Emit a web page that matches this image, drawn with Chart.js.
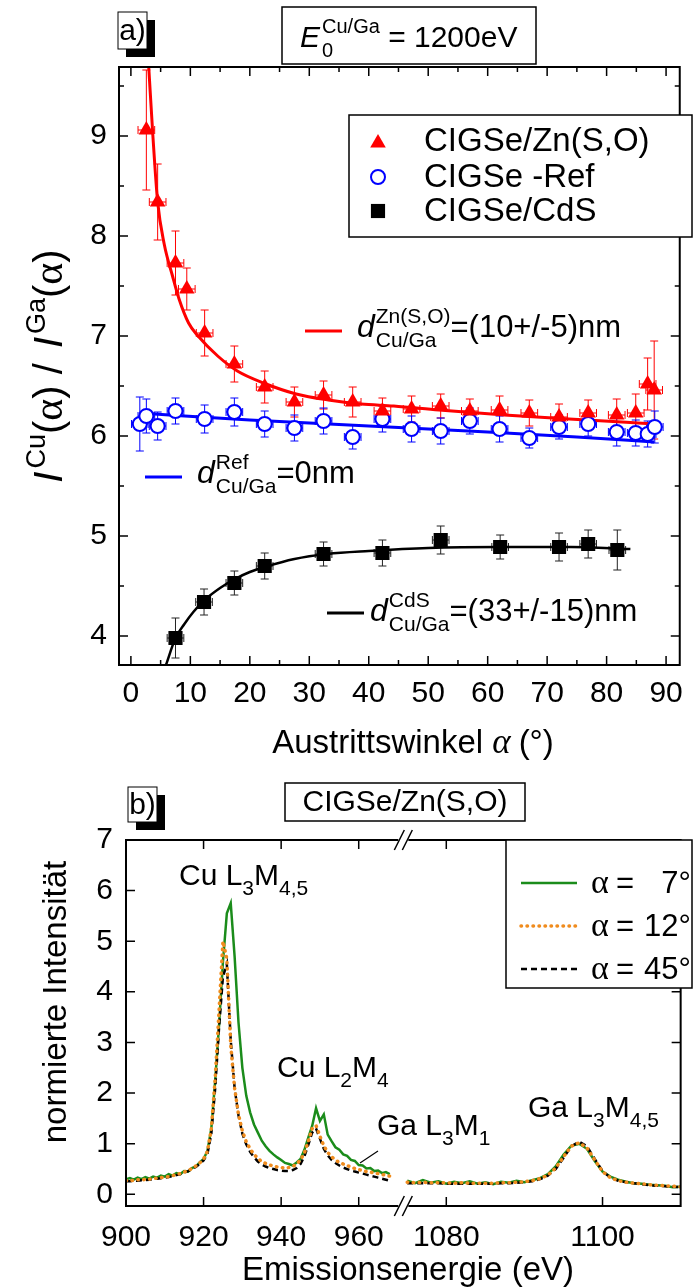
<!DOCTYPE html>
<html>
<head>
<meta charset="utf-8">
<script src="https://cdn.jsdelivr.net/npm/chart.js@4.4.1/dist/chart.umd.min.js"></script>
<style>
	html, body { margin: 0; padding: 0; background: #fff; }
	#page { position: relative; width: 694px; height: 1288px; overflow: hidden; background: #fff; }
	canvas { position: absolute; left: 0; }
	#chartA { top: 0; }
	#chartB { top: 770px; }
</style>
</head>
<body>
<div id="page">
	<canvas id="chartA" width="694" height="770"></canvas>
	<canvas id="chartB" width="694" height="518"></canvas>
</div>
<script>
const FONT = "'Liberation Sans', Arial, sans-serif";
const SERIF = "'Liberation Serif', 'Times New Roman', serif";
const B_TOP = 770;

// ---- panel a: intensity ratio vs. exit angle ----
const sampleNames = ['CIGSe/Zn(S,O)', 'CIGSe -Ref', 'CIGSe/CdS'];
const angleErr = 1.4;

const znsoAngle = [2.6, 4.5, 7.5, 9.4, 12.4, 17.4, 22.5, 27.5, 32.4, 37.3, 42.3, 47.2, 52.1, 57.0, 62.0, 67.0, 72.0, 76.9, 81.7, 84.9, 86.9, 88.0];
const znsoRatio = [9.06, 8.34, 7.73, 7.47, 7.03, 6.72, 6.49, 6.34, 6.41, 6.34, 6.25, 6.27, 6.30, 6.25, 6.26, 6.23, 6.19, 6.23, 6.21, 6.23, 6.52, 6.46];
const znsoErr = [0.60, 0.38, 0.32, 0.21, 0.23, 0.18, 0.16, 0.15, 0.14, 0.15, 0.13, 0.13, 0.12, 0.12, 0.14, 0.13, 0.13, 0.13, 0.16, 0.19, 0.26, 0.49];

const refAngle = [1.5, 2.6, 4.5, 7.5, 12.4, 17.4, 22.5, 27.5, 32.4, 37.3, 42.3, 47.2, 52.1, 57.0, 62.0, 67.0, 72.0, 76.9, 81.7, 84.9, 86.9, 88.1];
const refRatio = [6.12, 6.20, 6.10, 6.25, 6.17, 6.24, 6.12, 6.08, 6.15, 5.99, 6.17, 6.07, 6.05, 6.15, 6.07, 5.98, 6.09, 6.12, 6.04, 6.03, 6.02, 6.09];
const refErr = [0.27, 0.17, 0.14, 0.13, 0.14, 0.14, 0.13, 0.13, 0.13, 0.12, 0.13, 0.13, 0.13, 0.13, 0.13, 0.10, 0.12, 0.12, 0.14, 0.13, 0.13, 0.16];

const cdsAngle = [7.5, 12.3, 17.4, 22.5, 32.4, 42.3, 52.1, 62.1, 72.0, 76.9, 81.8];
const cdsRatio = [3.98, 4.34, 4.53, 4.70, 4.82, 4.83, 4.96, 4.89, 4.89, 4.92, 4.86];
const cdsErr = [0.20, 0.13, 0.12, 0.13, 0.12, 0.13, 0.14, 0.12, 0.14, 0.14, 0.20];

// fit curves
const znsoFitAngle = [3.0, 3.7, 4.5, 5.6, 7.0, 8.1, 9.7, 11.3, 14.6, 17.9, 22.3, 27.8, 33.2, 38.7, 44.2, 51.8, 62.8, 73.7, 88.0];
const znsoFit = [9.69, 9.00, 8.34, 7.92, 7.60, 7.37, 7.13, 7.00, 6.80, 6.65, 6.53, 6.42, 6.36, 6.32, 6.30, 6.26, 6.21, 6.17, 6.12];
const refFitAngle = [1.5, 20, 40, 60, 75, 88];
const refFit = [6.23, 6.16, 6.10, 6.04, 5.99, 5.94];
const cdsFitAngle = [5.9, 7.5, 9.0, 10.5, 12.4, 15, 17.5, 20, 22.5, 27.5, 33, 40, 50, 62, 74, 84];
const cdsFit = [3.71, 3.98, 4.12, 4.24, 4.36, 4.48, 4.57, 4.64, 4.69, 4.77, 4.82, 4.85, 4.88, 4.89, 4.89, 4.87];

// ---- panel b: spectra, Cu part and Ga part of the broken energy axis ----
const spectraLabels = ['7°', '12°', '45°'];
const energyCu = [900, 901, 902, 903, 904, 905, 906, 907, 908, 909,
	910, 911, 912, 913, 914, 915, 916, 917, 918, 919,
	920, 921, 922, 923, 924, 925, 926, 927, 928, 929,
	930, 931, 932, 933, 934, 935, 936, 937, 938, 939,
	940, 941, 942, 943, 944, 945, 946, 947, 948, 949,
	950, 951, 952, 953, 954, 955, 956, 957, 958, 959,
	960, 961, 962, 963, 964, 965, 966, 967, 968];
const cu7 = [0.30, 0.32, 0.29, 0.33, 0.30, 0.34, 0.31, 0.35, 0.33, 0.37,
	0.35, 0.40, 0.37, 0.42, 0.40, 0.46, 0.45, 0.52, 0.55, 0.63,
	0.70, 0.86, 1.30, 2.25, 3.35, 4.60, 5.55, 5.75, 4.70, 3.40,
	2.50, 1.95, 1.62, 1.38, 1.22, 1.06, 0.95, 0.86, 0.79, 0.73,
	0.68, 0.62, 0.60, 0.57, 0.63, 0.70, 0.88, 1.12, 1.35, 1.70,
	1.45, 1.58, 1.18, 1.05, 0.93, 0.88, 0.79, 0.76, 0.68, 0.66,
	0.58, 0.57, 0.51, 0.52, 0.46, 0.47, 0.42, 0.44, 0.40];
const cu12 = [0.27, 0.28, 0.27, 0.29, 0.28, 0.30, 0.30, 0.31, 0.32, 0.33,
	0.34, 0.35, 0.37, 0.39, 0.41, 0.44, 0.47, 0.51, 0.56, 0.62,
	0.70, 0.85, 1.30, 2.30, 3.65, 5.00, 4.65, 2.95, 2.10, 1.58,
	1.25, 1.04, 0.90, 0.79, 0.71, 0.65, 0.61, 0.58, 0.56, 0.54,
	0.53, 0.52, 0.53, 0.55, 0.60, 0.68, 0.82, 1.05, 1.30, 1.36,
	1.15, 0.96, 0.83, 0.74, 0.68, 0.63, 0.60, 0.57, 0.54, 0.51,
	0.49, 0.47, 0.45, 0.44, 0.42, 0.41, 0.39, 0.38, 0.36];
const cu45 = [0.26, 0.26, 0.27, 0.27, 0.28, 0.28, 0.29, 0.30, 0.31, 0.32,
	0.33, 0.34, 0.36, 0.38, 0.40, 0.43, 0.46, 0.50, 0.54, 0.60,
	0.67, 0.80, 1.20, 2.10, 3.30, 4.30, 4.55, 3.05, 2.10, 1.56,
	1.20, 0.99, 0.84, 0.73, 0.65, 0.59, 0.55, 0.52, 0.50, 0.48,
	0.47, 0.46, 0.46, 0.48, 0.52, 0.60, 0.75, 0.98, 1.22, 1.30,
	1.10, 0.90, 0.77, 0.68, 0.62, 0.57, 0.53, 0.50, 0.47, 0.45,
	0.43, 0.41, 0.39, 0.37, 0.35, 0.33, 0.31, 0.29, 0.27];
const energyGa = [1075, 1076, 1077, 1078, 1079, 1080, 1081, 1082, 1083, 1084,
	1085, 1086, 1087, 1088, 1089, 1090, 1091, 1092, 1093, 1094,
	1095, 1096, 1097, 1098, 1099, 1100, 1101, 1102, 1103, 1104,
	1105, 1106, 1107, 1108, 1109, 1110];
const ga7 = [0.27, 0.22, 0.28, 0.23, 0.26, 0.21, 0.25, 0.22, 0.26, 0.21,
	0.24, 0.20, 0.25, 0.23, 0.27, 0.24, 0.28, 0.32, 0.40, 0.55,
	0.78, 0.96, 1.00, 0.90, 0.66, 0.45, 0.35, 0.29, 0.25, 0.22,
	0.21, 0.19, 0.18, 0.17, 0.14, 0.15];
const ga12 = [0.24, 0.23, 0.24, 0.23, 0.23, 0.23, 0.22, 0.23, 0.22, 0.22,
	0.22, 0.22, 0.23, 0.23, 0.24, 0.25, 0.27, 0.31, 0.38, 0.52,
	0.74, 0.95, 1.02, 0.92, 0.68, 0.45, 0.33, 0.27, 0.24, 0.22,
	0.21, 0.19, 0.18, 0.17, 0.16, 0.15];
const ga45 = [0.22, 0.22, 0.22, 0.22, 0.22, 0.21, 0.21, 0.21, 0.21, 0.21,
	0.21, 0.21, 0.22, 0.22, 0.23, 0.24, 0.26, 0.30, 0.37, 0.50,
	0.72, 0.95, 1.04, 0.95, 0.70, 0.46, 0.33, 0.27, 0.24, 0.22,
	0.20, 0.18, 0.17, 0.16, 0.15, 0.14];

const RED = '#ff0000';
const BLUE = '#0000ff';
const GREEN = '#1b8c1b';
const ORANGE = '#f08c1e';

const pts = (xs, ys) => xs.map((x, i) => ({x: x, y: ys[i]}));

//text helpers

// draws text runs left to right; a run with sup/sub stacks both at the same x
function drawRuns(ctx, x, y, runs) {
	for (let r of runs) {
		ctx.font = r.font;
		if (r.sup !== undefined || r.sub !== undefined) {
			let w = 0;
			if (r.sup) {
				ctx.fillText(r.sup, x, y - (r.up || 13));
				w = Math.max(w, ctx.measureText(r.sup).width);
			}
			if (r.sub) {
				ctx.fillText(r.sub, x, y + (r.down || 10));
				w = Math.max(w, ctx.measureText(r.sub).width);
			}
			x += w + (r.gap || 0);
		} else {
			ctx.fillText(r.t, x, y);
			x += ctx.measureText(r.t).width + (r.gap || 0);
		}
	}
	return x;
}

function runsWidth(ctx, runs) {
	let w = 0;
	for (let r of runs) {
		ctx.font = r.font;
		if (r.sup !== undefined || r.sub !== undefined) {
			w += Math.max(r.sup ? ctx.measureText(r.sup).width : 0, r.sub ? ctx.measureText(r.sub).width : 0) + (r.gap || 0);
		} else {
			w += ctx.measureText(r.t).width + (r.gap || 0);
		}
	}
	return w;
}

function drawBox(ctx, x, y, w, h, lw) {
	ctx.fillStyle = '#fff';
	ctx.fillRect(x, y, w, h);
	ctx.lineWidth = lw;
	ctx.strokeStyle = '#000';
	ctx.strokeRect(x, y, w, h);
	ctx.fillStyle = '#000';
}

// "a)" / "b)" label with black drop shadow
function drawTag(ctx, text, x, y, w, h) {
	ctx.fillStyle = '#000';
	ctx.fillRect(x + 8, y + 8, w, h);
	drawBox(ctx, x, y, w, h, 1);
	ctx.font = '30px ' + FONT;
	ctx.textAlign = 'center';
	ctx.textBaseline = 'middle';
	ctx.fillText(text, x + w / 2, y + h / 2 + 1);
	ctx.textAlign = 'left';
	ctx.textBaseline = 'alphabetic';
}

function marker(ctx, style, x, y, r, fill, stroke, lw) {
	ctx.beginPath();
	if (style === 'triangle') {
		const a = 2 * Math.PI / 3;
		ctx.moveTo(x, y - r);
		ctx.lineTo(x + Math.sin(a) * r, y - Math.cos(a) * r);
		ctx.lineTo(x + Math.sin(2 * a) * r, y - Math.cos(2 * a) * r);
		ctx.closePath();
	} else if (style === 'rect') {
		const s = r * Math.SQRT1_2;
		ctx.rect(x - s, y - s, 2 * s, 2 * s);
	} else {
		ctx.arc(x, y, r, 0, Math.PI * 2);
	}
	ctx.fillStyle = fill;
	ctx.fill();
	if (lw) {
		ctx.lineWidth = lw;
		ctx.strokeStyle = stroke;
		ctx.stroke();
	}
}

function rotatedRuns(ctx, x, cy, runs) {
	ctx.save();
	ctx.translate(x, cy);
	ctx.rotate(-Math.PI / 2);
	drawRuns(ctx, -runsWidth(ctx, runs) / 2, 0, runs);
	ctx.restore();
}

//frame with inward ticks on all four sides
function framePlugin(majorLen, minorLen, breakScale) {
	return {
		id: 'frame',
		afterDatasetsDraw(chart) {
			const ctx = chart.ctx;
			const a = chart.chartArea;
			ctx.save();
			ctx.strokeStyle = '#000';
			ctx.lineWidth = 1.5;
			for (let id in chart.scales) {
				const s = chart.scales[id];
				const vals = s.ticks.map(t => t.value);
				const step = vals.length > 1 ? vals[1] - vals[0] : 0;
				let list = vals.map(v => [v, majorLen]);
				if (minorLen) {
					for (let v of vals) {
						for (let m of [v - step / 2, v + step / 2]) {
							if (m > s.min && m < s.max && !list.some(l => Math.abs(l[0] - m) < 1e-6)) {
								list.push([m, minorLen]);
							}
						}
					}
				}
				ctx.beginPath();
				for (let [v, len] of list) {
					const p = s.getPixelForValue(v);
					if (s.isHorizontal()) {
						ctx.moveTo(p, a.bottom);
						ctx.lineTo(p, a.bottom - len);
						ctx.moveTo(p, a.top);
						ctx.lineTo(p, a.top + len);
					} else {
						ctx.moveTo(a.left, p);
						ctx.lineTo(a.left + len, p);
						ctx.moveTo(a.right, p);
						ctx.lineTo(a.right - len, p);
					}
				}
				ctx.stroke();
			}
			ctx.lineWidth = 2;
			ctx.strokeRect(a.left, a.top, a.right - a.left, a.bottom - a.top);
			
			if (breakScale) {
				const bx = chart.scales[breakScale].right;
				for (let yy of [a.top, a.bottom]) {
					ctx.fillStyle = '#fff';
					ctx.fillRect(bx - 5, yy - 3, 10, 6);
					ctx.beginPath();
					ctx.lineWidth = 1.5;
					for (let dx of [-4, 4]) {
						ctx.moveTo(bx + dx - 5, yy + 10);
						ctx.lineTo(bx + dx + 5, yy - 10);
					}
					ctx.stroke();
				}
			}
			ctx.restore();
		}
	};
}

//error bars for panel a, drawn under the markers
const errorSeries = [
	{xs: znsoAngle, ys: znsoRatio, err: znsoErr, color: RED},
	{xs: refAngle, ys: refRatio, err: refErr, color: BLUE},
	{xs: cdsAngle, ys: cdsRatio, err: cdsErr, color: '#222'}
];

const errorBars = {
	id: 'errorBars',
	beforeDatasetsDraw(chart) {
		const ctx = chart.ctx;
		const a = chart.chartArea;
		const sx = chart.scales.x;
		const sy = chart.scales.y;
		ctx.save();
		ctx.beginPath();
		ctx.rect(a.left, a.top, a.right - a.left, a.bottom - a.top);
		ctx.clip();
		ctx.lineWidth = 1;
		for (let s of errorSeries) {
			ctx.strokeStyle = s.color;
			ctx.beginPath();
			s.xs.forEach((xv, i) => {
				const px = sx.getPixelForValue(xv);
				const py = sy.getPixelForValue(s.ys[i]);
				const y0 = sy.getPixelForValue(s.ys[i] - s.err[i]);
				const y1 = sy.getPixelForValue(s.ys[i] + s.err[i]);
				const x0 = sx.getPixelForValue(xv - angleErr);
				const x1 = sx.getPixelForValue(xv + angleErr);
				ctx.moveTo(px, y0); ctx.lineTo(px, y1);
				ctx.moveTo(px - 4, y0); ctx.lineTo(px + 4, y0);
				ctx.moveTo(px - 4, y1); ctx.lineTo(px + 4, y1);
				ctx.moveTo(x0, py); ctx.lineTo(x1, py);
				ctx.moveTo(x0, py - 4); ctx.lineTo(x0, py + 4);
				ctx.moveTo(x1, py - 4); ctx.lineTo(x1, py + 4);
			});
			ctx.stroke();
		}
		ctx.restore();
	}
};

const panelA = {
	id: 'panelA',
	afterDraw(chart) {
		const ctx = chart.ctx;
		const big = '30px ' + FONT;
		const small = '20px ' + FONT;
		const ital = 'italic 30px ' + FONT;
		ctx.save();
		
		drawTag(ctx, 'a)', 118, 12, 29, 37);
		
		drawBox(ctx, 282, 7, 254, 57, 1.5);
		drawRuns(ctx, 300, 47, [
			{t: 'E', font: ital, gap: 2},
			{sup: 'Cu/Ga', sub: '0', font: small, up: 14, down: 10},
			{t: ' = 1200eV', font: big}
		]);
		
		//legend
		drawBox(ctx, 349, 115, 343, 122, 1.5);
		const legY = [141, 177, 211];
		marker(ctx, 'triangle', 378, legY[0] + 2, 9, RED);
		marker(ctx, 'circle', 378, legY[1], 7, '#fff', BLUE, 2);
		marker(ctx, 'rect', 378, legY[2], 10, '#000');
		ctx.fillStyle = '#000';
		ctx.font = '33px ' + FONT;
		ctx.textBaseline = 'middle';
		sampleNames.forEach((n, i) => ctx.fillText(n, 424, legY[i] + 1));
		ctx.textBaseline = 'alphabetic';
		
		//fit labels
		const notes = [
			{color: RED, lx: 305, ly: 331, tx: 357, ty: 337, sup: 'Zn(S,O)', rest: '=(10+/-5)nm'},
			{color: BLUE, lx: 145, ly: 477, tx: 197, ty: 483, sup: 'Ref', rest: '=0nm'},
			{color: '#000', lx: 327, ly: 613, tx: 370, ty: 621, sup: 'CdS', rest: '=(33+/-15)nm'}
		];
		for (let n of notes) {
			ctx.strokeStyle = n.color;
			ctx.lineWidth = 3;
			ctx.beginPath();
			ctx.moveTo(n.lx, n.ly);
			ctx.lineTo(n.lx + 37, n.ly);
			ctx.stroke();
			ctx.fillStyle = '#000';
			drawRuns(ctx, n.tx, n.ty, [
				{t: 'd', font: 'italic 32px ' + FONT, gap: 1},
				{sup: n.sup, sub: 'Cu/Ga', font: '21px ' + FONT, up: 14, down: 10},
				{t: n.rest, font: '31px ' + FONT}
			]);
		}
		
		//axis titles
		const xt = [
			{t: 'Austrittswinkel ', font: '33px ' + FONT},
			{t: 'α', font: 'italic 35px ' + SERIF, gap: 8},
			{t: '(°)', font: '33px ' + FONT}
		];
		drawRuns(ctx, 413 - runsWidth(ctx, xt) / 2, 753, xt);
		
		const yt = [
			{t: 'I', font: 'italic 40px ' + FONT, gap: 3},
			{sup: 'Cu', font: '27px ' + FONT, up: 17},
			{t: '(', font: '40px ' + FONT},
			{t: 'α', font: '42px ' + SERIF},
			{t: ') / ', font: '40px ' + FONT, gap: 4},
			{t: 'I', font: 'italic 40px ' + FONT, gap: 3},
			{sup: 'Ga', font: '27px ' + FONT, up: 17},
			{t: '(', font: '40px ' + FONT},
			{t: 'α', font: '42px ' + SERIF},
			{t: ')', font: '40px ' + FONT}
		];
		rotatedRuns(ctx, 62, 366, yt);
		
		ctx.restore();
	}
};

const panelB = {
	id: 'panelB',
	afterDraw(chart) {
		const ctx = chart.ctx;
		const big = '30px ' + FONT;
		const lab = '30px ' + FONT;
		const small = '21px ' + FONT;
		const Y = v => v - B_TOP;
		ctx.save();
		
		drawTag(ctx, 'b)', 128, Y(787), 29, 35);
		
		drawBox(ctx, 285, Y(783), 240, 38, 1.5);
		ctx.font = big;
		ctx.textAlign = 'center';
		ctx.textBaseline = 'middle';
		ctx.fillText(sampleNames[0], 405, Y(803));
		ctx.textAlign = 'left';
		ctx.textBaseline = 'alphabetic';
		
		//legend
		drawBox(ctx, 506, Y(840), 186, 148, 1.5);
		const styles = [
			{color: GREEN, dash: [], cap: 'butt', w: 2.5},
			{color: ORANGE, dash: [0.5, 5.5], cap: 'round', w: 3.5},
			{color: '#000', dash: [6, 4], cap: 'butt', w: 2.5}
		];
		const legY = [883, 926, 969];
		styles.forEach((s, i) => {
			ctx.strokeStyle = s.color;
			ctx.lineWidth = s.w;
			ctx.lineCap = s.cap;
			ctx.setLineDash(s.dash);
			ctx.beginPath();
			ctx.moveTo(521, Y(legY[i]));
			ctx.lineTo(577, Y(legY[i]));
			ctx.stroke();
		});
		ctx.setLineDash([]);
		ctx.lineCap = 'butt';
		ctx.fillStyle = '#000';
		ctx.textBaseline = 'middle';
		spectraLabels.forEach((t, i) => {
			ctx.font = '34px ' + SERIF;
			ctx.fillText('α', 591, Y(legY[i]) + 1);
			ctx.font = '31px ' + FONT;
			ctx.fillText('=', 616, Y(legY[i]) + 1);
			ctx.textAlign = 'right';
			ctx.fillText(t, 691, Y(legY[i]) + 1);
			ctx.textAlign = 'left';
		});
		ctx.textBaseline = 'alphabetic';
		
		//peak labels
		drawRuns(ctx, 179, Y(885), [{t: 'Cu L', font: lab}, {sub: '3', font: small}, {t: 'M', font: lab}, {sub: '4,5', font: small}]);
		drawRuns(ctx, 277, Y(1077), [{t: 'Cu L', font: lab}, {sub: '2', font: small}, {t: 'M', font: lab}, {sub: '4', font: small}]);
		drawRuns(ctx, 377, Y(1135), [{t: 'Ga L', font: lab}, {sub: '3', font: small}, {t: 'M', font: lab}, {sub: '1', font: small}]);
		drawRuns(ctx, 528, Y(1117), [{t: 'Ga L', font: lab}, {sub: '3', font: small}, {t: 'M', font: lab}, {sub: '4,5', font: small}]);
		ctx.strokeStyle = '#000';
		ctx.lineWidth = 1.2;
		ctx.beginPath();
		ctx.moveTo(378, Y(1151));
		ctx.lineTo(360, Y(1163));
		ctx.stroke();
		
		//axis titles
		ctx.font = '33px ' + FONT;
		ctx.textAlign = 'center';
		ctx.fillText('Emissionsenergie (eV)', 408, Y(1280));
		ctx.save();
		ctx.translate(66, Y(1002));
		ctx.rotate(-Math.PI / 2);
		ctx.fillText('normierte Intensität', 0, 0);
		ctx.restore();
		ctx.textAlign = 'left';
		
		ctx.restore();
	}
};

const tickFont = {family: FONT, size: 30};
const plainTicks = v => String(v);

new Chart(document.getElementById('chartA'), {
	type: 'scatter',
	data: {
		datasets: [
			{label: sampleNames[0], data: pts(znsoAngle, znsoRatio), pointStyle: 'triangle', pointRadius: 9, pointBackgroundColor: RED, pointBorderColor: RED, pointBorderWidth: 0, order: 1},
			{label: sampleNames[1], data: pts(refAngle, refRatio), pointStyle: 'circle', pointRadius: 7, pointBackgroundColor: '#fff', pointBorderColor: BLUE, pointBorderWidth: 2, order: 1},
			{label: sampleNames[2], data: pts(cdsAngle, cdsRatio), pointStyle: 'rect', pointRadius: 10, pointBackgroundColor: '#000', pointBorderColor: '#000', pointBorderWidth: 0, order: 1},
			{label: 'fit Zn(S,O)', data: pts(znsoFitAngle, znsoFit), showLine: true, pointRadius: 0, borderColor: RED, borderWidth: 3, cubicInterpolationMode: 'monotone', order: 2},
			{label: 'fit Ref', data: pts(refFitAngle, refFit), showLine: true, pointRadius: 0, borderColor: BLUE, borderWidth: 3, cubicInterpolationMode: 'monotone', order: 2},
			{label: 'fit CdS', data: pts(cdsFitAngle, cdsFit), showLine: true, pointRadius: 0, borderColor: '#000', borderWidth: 2.5, cubicInterpolationMode: 'monotone', order: 2}
		]
	},
	options: {
		responsive: false,
		animation: false,
		events: [],
		layout: {padding: {top: 67, right: 2, left: 0, bottom: 0}},
		plugins: {legend: {display: false}, tooltip: {enabled: false}},
		scales: {
			x: {
				type: 'linear', min: -2, max: 92.3,
				grid: {display: false, drawTicks: false}, border: {display: false},
				ticks: {stepSize: 10, includeBounds: false, autoSkip: false, maxRotation: 0, padding: 11, color: '#000', font: tickFont, callback: plainTicks},
				afterFit: s => { s.height = 105; }
			},
			y: {
				type: 'linear', min: 3.71, max: 9.69,
				grid: {display: false, drawTicks: false}, border: {display: false},
				ticks: {stepSize: 1, includeBounds: false, padding: 12, color: '#000', font: tickFont, callback: plainTicks},
				afterFit: s => { s.width = 119; }
			}
		}
	},
	plugins: [errorBars, framePlugin(9, 5), panelA]
});

const lineSet = (label, xs, ys, axis, color, width, dash, cap, order) => ({
	label: label, data: pts(xs, ys), xAxisID: axis, yAxisID: 'y',
	showLine: true, pointRadius: 0, borderColor: color, borderWidth: width,
	borderDash: dash, borderCapStyle: cap, tension: 0, order: order
});

new Chart(document.getElementById('chartB'), {
	type: 'scatter',
	data: {
		datasets: [
			lineSet(spectraLabels[1], energyCu, cu12, 'xl', ORANGE, 3.5, [0.5, 5.5], 'round', 0),
			lineSet(spectraLabels[1], energyGa, ga12, 'xr', ORANGE, 3.5, [0.5, 5.5], 'round', 0),
			lineSet(spectraLabels[2], energyCu, cu45, 'xl', '#000', 2.5, [6, 4], 'butt', 1),
			lineSet(spectraLabels[2], energyGa, ga45, 'xr', '#000', 2.5, [6, 4], 'butt', 1),
			lineSet(spectraLabels[0], energyCu, cu7, 'xl', GREEN, 2.5, [], 'butt', 2),
			lineSet(spectraLabels[0], energyGa, ga7, 'xr', GREEN, 2.5, [], 'butt', 2)
		]
	},
	options: {
		responsive: false,
		animation: false,
		events: [],
		layout: {padding: {top: 70, right: 2, left: 0, bottom: 0}},
		plugins: {legend: {display: false}, tooltip: {enabled: false}},
		scales: {
			xl: {
				type: 'linear', position: 'bottom', stack: 'energy', stackWeight: 1, min: 900, max: 971.5,
				grid: {display: false, drawTicks: false}, border: {display: false},
				ticks: {stepSize: 20, includeBounds: false, autoSkip: false, maxRotation: 0, padding: 14, color: '#000', font: tickFont, callback: plainTicks},
				afterFit: s => { s.height = 82; }
			},
			xr: {
				type: 'linear', position: 'bottom', stack: 'energy', stackWeight: 1, min: 1074.5, max: 1110,
				grid: {display: false, drawTicks: false}, border: {display: false},
				ticks: {stepSize: 20, includeBounds: false, autoSkip: false, maxRotation: 0, padding: 14, color: '#000', font: tickFont, callback: plainTicks},
				afterFit: s => { s.height = 82; }
			},
			y: {
				type: 'linear', min: -0.23, max: 7,
				grid: {display: false, drawTicks: false}, border: {display: false},
				ticks: {stepSize: 1, includeBounds: false, padding: 13, color: '#000', font: tickFont, callback: plainTicks},
				afterFit: s => { s.width = 126; }
			}
		}
	},
	plugins: [framePlugin(9, 0, 'xl'), panelB]
});
</script>
</body>
</html>
